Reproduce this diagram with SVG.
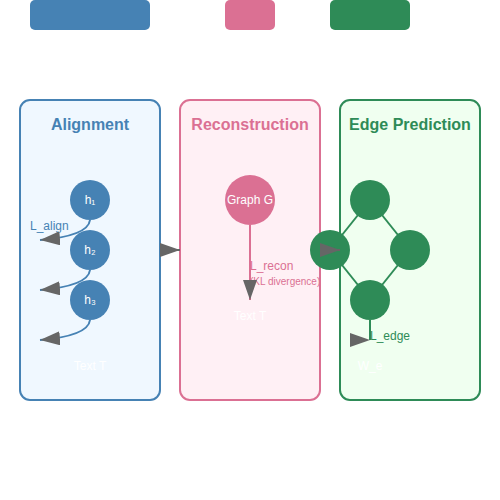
<svg xmlns="http://www.w3.org/2000/svg" width="500" height="500" viewBox="0 0 500 500">
<defs>
<marker id="arr" markerWidth="10" markerHeight="7" refX="10" refY="3.5" orient="auto">
<path d="M0,0 L10,3.5 L0,7 z" fill="#666"/>
</marker>
<marker id="arrR" markerWidth="10" markerHeight="7" refX="10" refY="3.5" orient="0">
<path d="M0,0 L10,3.5 L0,7 z" fill="#666"/>
</marker>
</defs>
<style>
text{font-family:"Liberation Sans",Arial,sans-serif}
.panel{stroke-width:2}
.title{font-size:16px;font-weight:bold;text-anchor:middle}
.lbl{font-size:12px}
.sm{font-size:10px}
.wt{fill:#fff;font-size:12px;text-anchor:middle}
.ctr{text-anchor:middle}
.hn{fill:#4682b4}
.gn{fill:#2e8b57}
.conn{fill:none;stroke-width:2}
</style>
<g id="legend">
<rect x="30" y="0" width="120" height="30" rx="5" fill="#4682b4"/>
<rect x="225" y="0" width="50" height="30" rx="5" fill="#db7093"/>
<rect x="330" y="0" width="80" height="30" rx="5" fill="#2e8b57"/>
</g>
<g id="panel-alignment">
<rect class="panel" x="20" y="100" width="140" height="300" rx="10" fill="#f0f8ff" stroke="#4682b4"/>
<text class="title" x="90" y="130" fill="#4682b4">Alignment</text>
<text class="lbl" x="30" y="230" fill="#4682b4">L_align</text>
<text class="wt" x="90" y="370">Text T</text>
</g>
<g id="panel-reconstruction">
<rect class="panel" x="180" y="100" width="140" height="300" rx="10" fill="#fff0f5" stroke="#db7093"/>
<text class="title" x="250" y="130" fill="#db7093">Reconstruction</text>
<text class="lbl" x="250" y="270" fill="#db7093">L_recon</text>
<text class="sm" x="250" y="285" fill="#db7093">(KL divergence)</text>
<text class="wt" x="250" y="320">Text T</text>
</g>
<g id="panel-edge">
<rect class="panel" x="340" y="100" width="140" height="300" rx="10" fill="#f0fff0" stroke="#2e8b57"/>
<text class="title" x="410" y="130" fill="#2e8b57">Edge Prediction</text>
<text class="lbl" x="370" y="340" fill="#2e8b57">L_edge</text>
<text class="wt" x="370" y="370">W_e</text>
</g>
<g id="edges-graph" stroke="#2e8b57" stroke-width="2">
<line x1="370" y1="200" x2="330" y2="250"/>
<line x1="370" y1="200" x2="410" y2="250"/>
<line x1="330" y1="250" x2="370" y2="300"/>
<line x1="410" y1="250" x2="370" y2="300"/>
</g>
<g id="node-h1"><circle class="hn" cx="90" cy="200" r="20"/><text class="wt" x="90" y="204">h₁</text></g>
<g id="node-h2"><circle class="hn" cx="90" cy="250" r="20"/><text class="wt" x="90" y="254">h₂</text></g>
<g id="node-h3"><circle class="hn" cx="90" cy="300" r="20"/><text class="wt" x="90" y="304">h₃</text></g>
<g id="node-graph"><circle cx="250" cy="200" r="25" fill="#db7093"/><text class="wt" x="250" y="204">Graph G</text></g>
<g id="node-e1"><circle class="gn" cx="370" cy="200" r="20"/></g>
<g id="node-e2"><circle class="gn" cx="330" cy="250" r="20"/></g>
<g id="node-e3"><circle class="gn" cx="410" cy="250" r="20"/></g>
<g id="node-e4"><circle class="gn" cx="370" cy="300" r="20"/></g>
<g id="connectors">
<path class="conn" stroke="#4682b4" d="M90,220 Q88,236 40,240" marker-end="url(#arr)"/>
<path class="conn" stroke="#4682b4" d="M90,270 Q88,286 40,290" marker-end="url(#arr)"/>
<path class="conn" stroke="#4682b4" d="M90,320 Q88,336 40,340" marker-end="url(#arr)"/>
<line class="conn" stroke="#db7093" x1="250" y1="225" x2="250" y2="300" marker-end="url(#arr)"/>
<line class="conn" stroke="#2e8b57" x1="370" y1="320" x2="370" y2="340" marker-end="url(#arrR)"/>
<line class="conn" stroke="#666" x1="160" y1="250" x2="180" y2="250" marker-end="url(#arr)"/>
<line class="conn" stroke="#666" x1="320" y1="250" x2="340" y2="250" marker-end="url(#arr)"/>
</g>
</svg>
